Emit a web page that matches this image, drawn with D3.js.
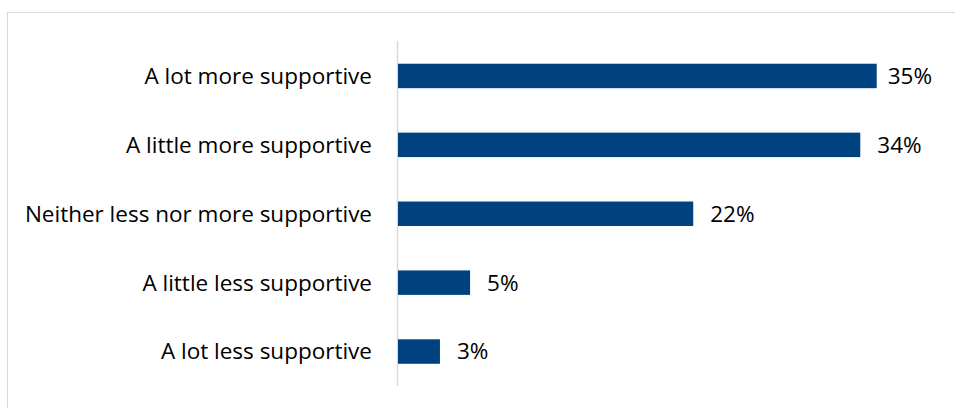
<!DOCTYPE html>
<html><head><meta charset="utf-8">
<script src="https://cdn.jsdelivr.net/npm/d3@7"></script>
<style>body{margin:0;background:#fff;}svg{display:block;font-family:"Open Sans",sans-serif;}</style>
</head><body>
<svg id="c" width="955" height="408"></svg>
<script>
const categories = ["A lot more supportive","A little more supportive","Neither less nor more supportive","A little less supportive","A lot less supportive"];
const values = [35,33.8,21.6,5.3,3.1];
const valueLabels = ["35%","34%","22%","5%","3%"];

const svg = d3.select("#c");
svg.append("rect").attr("x",7.5).attr("y",12.5).attr("width",1000).attr("height",500)
  .attr("fill","#fff").attr("stroke","#d9d9d9").attr("stroke-width",1);

const x0 = 397.5;
const x = d3.scaleLinear().domain([0,35]).range([x0, 876.7]);
const y = d3.scaleBand().domain(categories).range([41.5, 386]).paddingInner(0.645).paddingOuter(0.3225);

svg.append("line").attr("x1",x0).attr("x2",x0).attr("y1",41).attr("y2",386)
  .attr("stroke","#d9d9d9").attr("stroke-width",1.5);

svg.selectAll("rect.bar").data(values).enter().append("rect").attr("class","bar")
  .attr("x",x(0)+0.5).attr("y",(d,i)=>y(categories[i]))
  .attr("width",d=>x(d)-x(0)-0.5).attr("height",y.bandwidth())
  .attr("fill","#00427f");

svg.selectAll("text.cat").data(categories).enter().append("text").attr("class","cat")
  .attr("x",372).attr("y",d=>y(d)+y.bandwidth()/2).attr("dy","0.35em")
  .attr("text-anchor","end").attr("font-size",22.5).attr("fill","#000").text(d=>d);

const vals = svg.selectAll("text.val").data(values).enter().append("text").attr("class","val")
  .attr("y",(d,i)=>y(categories[i])+y.bandwidth()/2).attr("dy","0.35em")
  .attr("font-size",22.5).attr("fill","#000").text((d,i)=>valueLabels[i]);
vals.attr("x",function(d){
  const w = this.getComputedTextLength();
  return Math.min(x(d)+17, 932 - w);
});
</script>
</body></html>
